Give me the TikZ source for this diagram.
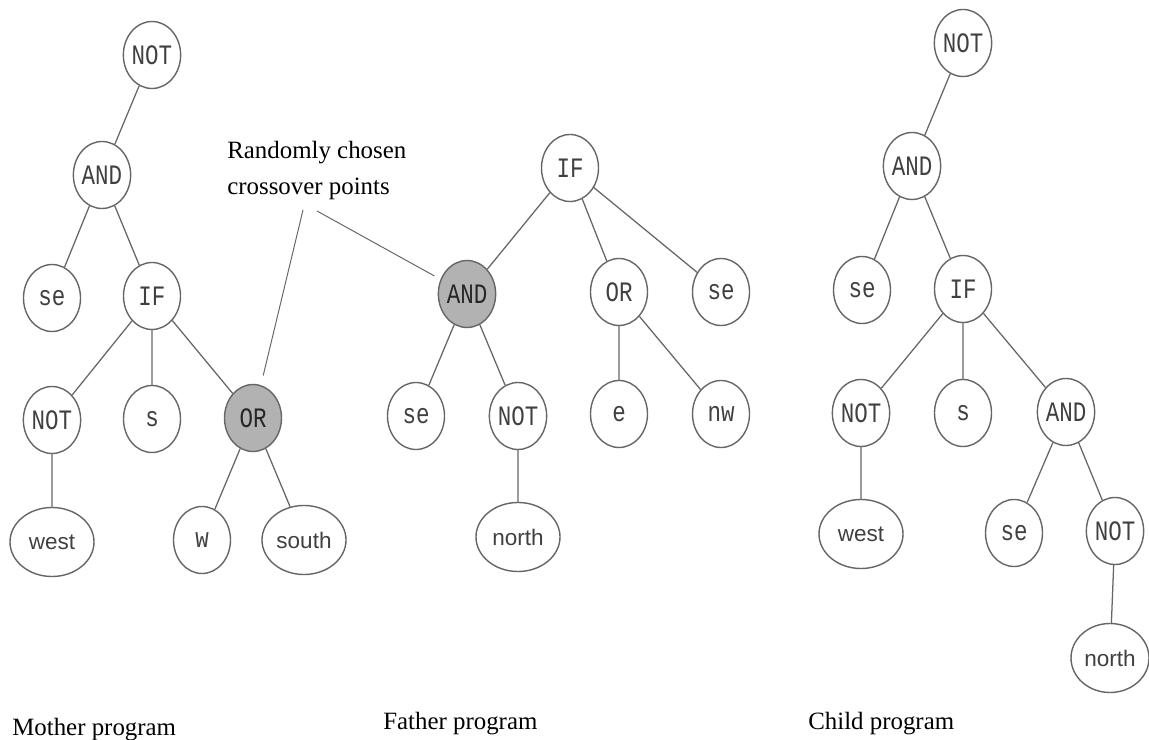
\documentclass[tikz,border=0pt]{standalone}
\usepackage{fontspec}
\setmainfont{Liberation Serif}
\newfontfamily\opfont[FakeStretch=0.8]{Liberation Mono}
\newfontfamily\wordfont{Liberation Sans}
\usetikzlibrary{shapes.geometric}
\begin{document}
\begin{tikzpicture}[x=0.025cm, y=-0.025cm,
  gene/.style={ellipse, draw=black!60, line width=1pt, inner sep=0pt,
               minimum width=1.425cm, minimum height=1.675cm, text=black!75,
               font={\opfont\fontsize{20}{20}\selectfont}},
  word/.style={gene, minimum width=2.1cm, minimum height=1.725cm,
               font={\wordfont\fontsize{16}{16}\selectfont}},
  picked/.style={gene, fill=black!30, text=black!85},
  link/.style={draw=black!60, line width=0.9pt},
  caption/.style={anchor=base west, inner sep=0pt,
               font={\fontsize{17.7}{25.6}\selectfont}}
]
  \useasboundingbox (0,0) rectangle (1149,740);

  \node[gene]   (mNot)   at (152, 55)  {NOT};
  \node[gene]   (mAnd)   at (102,175)  {AND};
  \node[gene]   (mSe)    at (52, 298)  {se};
  \node[gene]   (mIf)    at (152,296)  {IF};
  \node[gene]   (mNotB)  at (52, 420)  {NOT};
  \node[gene]   (mS)     at (152,419)  {s};
  \node[picked] (mOr)    at (253,418)  {OR};
  \node[word]   (mWest)  at (52, 542)  {west};
  \node[gene]   (mW)     at (202,540)  {w};
  \node[word]   (mSouth) at (304,540)  {south};
  \draw[link] (mNot) -- (mAnd) (mAnd) -- (mSe) (mAnd) -- (mIf)
              (mIf) -- (mNotB) (mIf) -- (mS) (mIf) -- (mOr)
              (mNotB) -- (mWest) (mOr) -- (mW) (mOr) -- (mSouth);

  \node[gene]   (fIf)    at (570,168)  {IF};
  \node[picked] (fAnd)   at (467,294)  {AND};
  \node[gene]   (fOr)    at (619,292)  {OR};
  \node[gene]   (fSe)    at (721,292)  {se};
  \node[gene]   (fSeB)   at (416,416)  {se};
  \node[gene]   (fNot)   at (518,416)  {NOT};
  \node[gene]   (fE)     at (619,414)  {e};
  \node[gene]   (fNw)    at (721,414)  {nw};
  \node[word]   (fNorth) at (518,537)  {north};
  \draw[link] (fIf) -- (fAnd) (fIf) -- (fOr) (fIf) -- (fSe)
              (fAnd) -- (fSeB) (fAnd) -- (fNot) (fOr) -- (fE) (fOr) -- (fNw)
              (fNot) -- (fNorth);

  \node[gene]   (cNot)   at (963, 43)  {NOT};
  \node[gene]   (cAnd)   at (912,166)  {AND};
  \node[gene]   (cSe)    at (862,290)  {se};
  \node[gene]   (cIf)    at (963,289)  {IF};
  \node[gene]   (cNotB)  at (861,413)  {NOT};
  \node[gene]   (cS)     at (963,413)  {s};
  \node[gene]   (cAndB)  at (1066,412) {AND};
  \node[word]   (cWest)  at (861,534)  {west};
  \node[gene]   (cSeB)   at (1014,533) {se};
  \node[gene]   (cNotC)  at (1115,531) {NOT};
  \node[word, minimum width=1.95cm] (cNorth) at (1110,658) {north};
  \draw[link] (cNot) -- (cAnd) (cAnd) -- (cSe) (cAnd) -- (cIf)
              (cIf) -- (cNotB) (cIf) -- (cS) (cIf) -- (cAndB)
              (cNotB) -- (cWest) (cAndB) -- (cSeB) (cAndB) -- (cNotC)
              (cNotC) -- (cNorth);

  \node[caption, anchor=north west, align=left] (note) at (227,141)
       {Randomly chosen\\crossover points};
  \coordinate (tipA) at (303,210);
  \coordinate (tipB) at (317,211);
  \draw[link, line width=0.7pt, shorten >=7pt] (tipA) -- (mOr);
  \draw[link, line width=0.7pt, shorten >=5pt] (tipB) -- (fAnd);

  \node[caption] (mLabel) at (12,735)  {Mother program};
  \node[caption] (fLabel) at (383,729) {Father program};
  \node[caption] (cLabel) at (808,729) {Child program};
\end{tikzpicture}
\end{document}
